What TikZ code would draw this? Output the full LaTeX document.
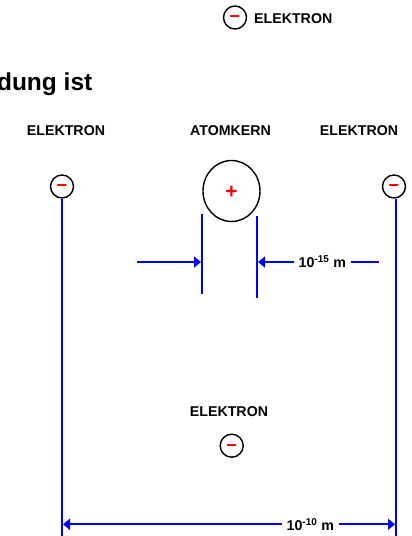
\documentclass[tikz,border=0pt]{standalone}
\usepackage{fontspec}
\setmainfont{Liberation Sans}
\usetikzlibrary{arrows.meta,shapes.geometric}
\newcommand{\eminus}{\raisebox{-5.3pt}[0pt][0pt]{−}}
\begin{document}
\begin{tikzpicture}[x=1pt,y=-1pt,
  lbl/.style={font=\fontsize{14.2}{15}\selectfont\bfseries, inner sep=0pt},
  electron/.style={circle, draw=black, line width=1.4pt, minimum size=23pt, inner sep=0pt,
     text=red, font=\fontsize{18}{18}\selectfont\bfseries},
  blueline/.style={draw=blue, line width=2pt},
  dimarrow/.style={blueline, -{Triangle[length=7pt,width=11pt]}},
  dimtext/.style={font=\fontsize{14.2}{15}\selectfont\bfseries, inner xsep=4.5pt, inner ysep=0pt}
]
\useasboundingbox (0,0) rectangle (412,536);

% top legend
\node[electron] (etop) at (235,17.5) {\eminus};
\node[lbl, anchor=west] (ltop) at (254,18.5) {ELEKTRON};

% partial heading
\node[font=\fontsize{24.5}{26}\selectfont\bfseries, anchor=base east, inner sep=0pt] (head) at (92.5,90.7) {dung ist};

% labels
\node[lbl] (lleft) at (66,131) {ELEKTRON};
\node[lbl] (lkern) at (230.5,131) {ATOMKERN};
\node[lbl] (lright) at (359,131) {ELEKTRON};
\node[lbl] (lbot) at (229,412) {ELEKTRON};

% electrons
\node[electron] (eleft) at (62,186.5) {\eminus};
\node[electron] (eright) at (394,186.5) {\eminus};
\node[electron] (ebot) at (231.7,445.7) {\eminus};

% nucleus
\node[ellipse, draw=black, line width=1.4pt, minimum width=57pt, minimum height=61pt, inner sep=0pt,
      text=red, font=\fontsize{21}{21}\selectfont\bfseries] (kern) at (231.5,191) {\raisebox{-7pt}[0pt][0pt]{+}};

% vertical lines
\coordinate (lt) at (62,199);
\coordinate (lb) at (62,536);
\coordinate (rt) at (396,199);
\coordinate (rb) at (396,536);
\draw[blueline] (lt) -- (lb);
\draw[blueline] (rt) -- (rb);

\coordinate (kl1) at (202,214);
\coordinate (kl2) at (202,294);
\coordinate (kr1) at (257,216);
\coordinate (kr2) at (257,298);
\draw[blueline] (kl1) -- (kl2);
\draw[blueline] (kr1) -- (kr2);

% nucleus dimension
\coordinate (a1s) at (137,262);
\coordinate (a1e) at (201,262);
\coordinate (a2e) at (258,262);
\coordinate (a2f) at (379,262);
\draw[dimarrow] (a1s) -- (a1e);
\node[dimtext, anchor=west] (t15) at (294,262) {10\textsuperscript{-15} m};
\draw[dimarrow] (t15.west) -- (a2e);
\draw[blueline] (t15.east) -- (a2f);

% atom dimension
\coordinate (b1) at (63,524.3);
\coordinate (b2) at (395,524.3);
\node[dimtext, anchor=west] (t10) at (282,524.3) {10\textsuperscript{-10} m};
\draw[dimarrow] (t10.west) -- (b1);
\draw[dimarrow] (t10.east) -- (b2);
\end{tikzpicture}
\end{document}
